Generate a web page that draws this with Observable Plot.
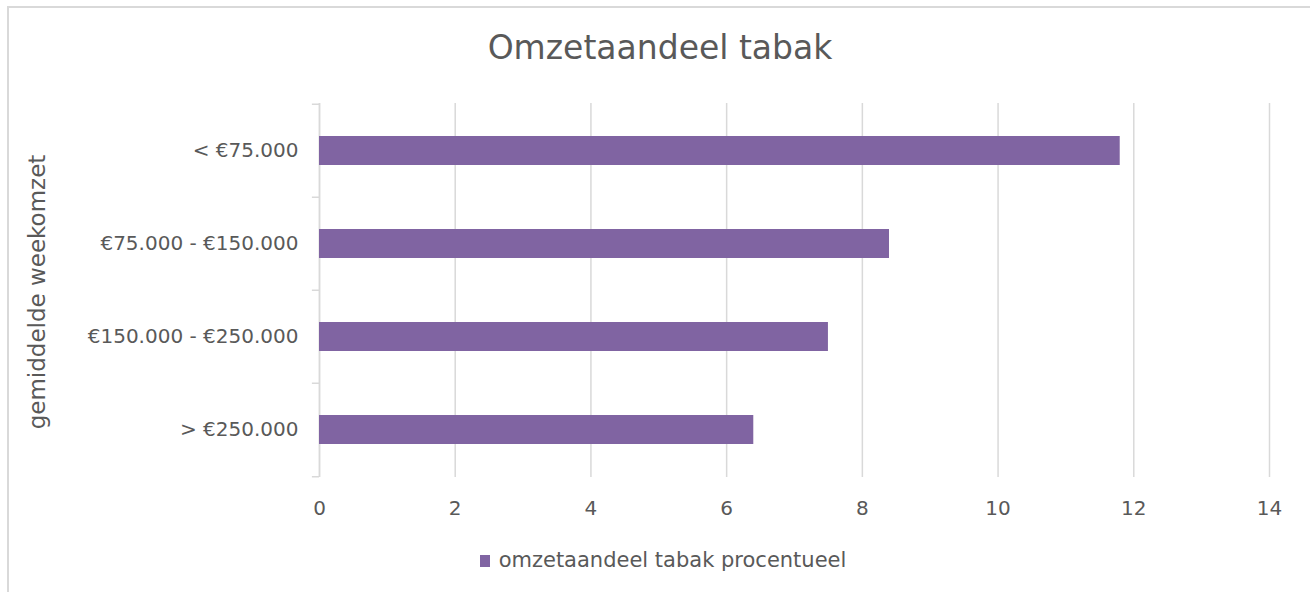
<!DOCTYPE html>
<html>
<head>
<meta charset="utf-8">
<script src="https://cdn.jsdelivr.net/npm/d3@7"></script>
<script src="https://cdn.jsdelivr.net/npm/@observablehq/plot@0.6"></script>
<style>
  html, body { margin: 0; padding: 0; background: #fff; overflow: hidden; }
  body { width: 1310px; height: 592px; position: relative; font-family: "DejaVu Sans", sans-serif; color: #595959; }
  #frame { position: absolute; left: 7px; top: 6px; width: 1310px; height: 620px; border: 2px solid #d9d9d9; box-sizing: border-box; }
  #title { position: absolute; left: 0; top: 23px; width: 1320px; text-align: center; font-size: 33px; color: #595959; line-height: 50px; }
  #chart { position: absolute; left: 0; top: 90px; }
  #ytitle { position: absolute; left: 37px; top: 292px; transform: translate(-50%, -50%) rotate(-90deg); font-size: 23px; white-space: nowrap; color: #595959; line-height: 28px; }
  #legend { position: absolute; left: 0; top: 546px; width: 1326px; text-align: center; font-size: 21px; color: #595959; line-height: 28px; }
  #legend .sw { display: inline-block; width: 10px; height: 12px; background: #8064a2; margin-right: 9px; vertical-align: 0px; }
</style>
</head>
<body>
<div id="frame"></div>
<div id="title">Omzetaandeel tabak</div>
<div id="ytitle">gemiddelde weekomzet</div>
<div id="chart"></div>
<div id="legend"><span class="sw"></span>omzetaandeel tabak procentueel</div>
<script>
const categories = ["< €75.000", "€75.000 - €150.000", "€150.000 - €250.000", "> €250.000"];
const values = [11.8, 8.4, 7.5, 6.4];
const xTicks = [0, 2, 4, 6, 8, 10, 12, 14];
const seriesName = "omzetaandeel tabak procentueel";

const data = categories.map((c, i) => ({category: c, value: values[i]}));

const W = 1310, H = 440;
const mTop = 13, mBottom = 53, mLeft = 319, mRight = 41;
const step = (H - mTop - mBottom) / categories.length;

const plot = Plot.plot({
  width: W,
  height: H,
  marginTop: mTop,
  marginBottom: mBottom,
  marginLeft: mLeft,
  marginRight: mRight,
  style: {fontFamily: "DejaVu Sans, sans-serif", fontSize: "20px", color: "#595959", background: "transparent", overflow: "visible"},
  x: {domain: [0, 14], ticks: xTicks},
  y: {domain: categories, paddingInner: 0.69, paddingOuter: 0.345},
  marks: [
    Plot.gridX(xTicks, {stroke: "#d9d9d9", strokeOpacity: 1, strokeWidth: 1.5}),
    Plot.ruleX([0], {stroke: "#d9d9d9", strokeWidth: 1.5}),
    Plot.ruleY(categories, {y: d => d, x1: -0.105, x2: 0, dy: -step / 2, stroke: "#d9d9d9", strokeWidth: 1.5}),
    Plot.ruleY(categories.slice(-1), {y: d => d, x1: -0.105, x2: 0, dy: step / 2, stroke: "#d9d9d9", strokeWidth: 1.5}),
    Plot.barX(data, {y: "category", x: "value", fill: "#8064a2", title: d => `${seriesName}: ${d.value}`}),
    Plot.axisX(xTicks, {tickSize: 0, tickPadding: 23, fontSize: 20, fill: "#595959", label: null}),
    Plot.axisY({tickSize: 0, tickPadding: 21, fontSize: 20, fill: "#595959", label: null})
  ]
});
document.getElementById("chart").appendChild(plot);
</script>
</body>
</html>
